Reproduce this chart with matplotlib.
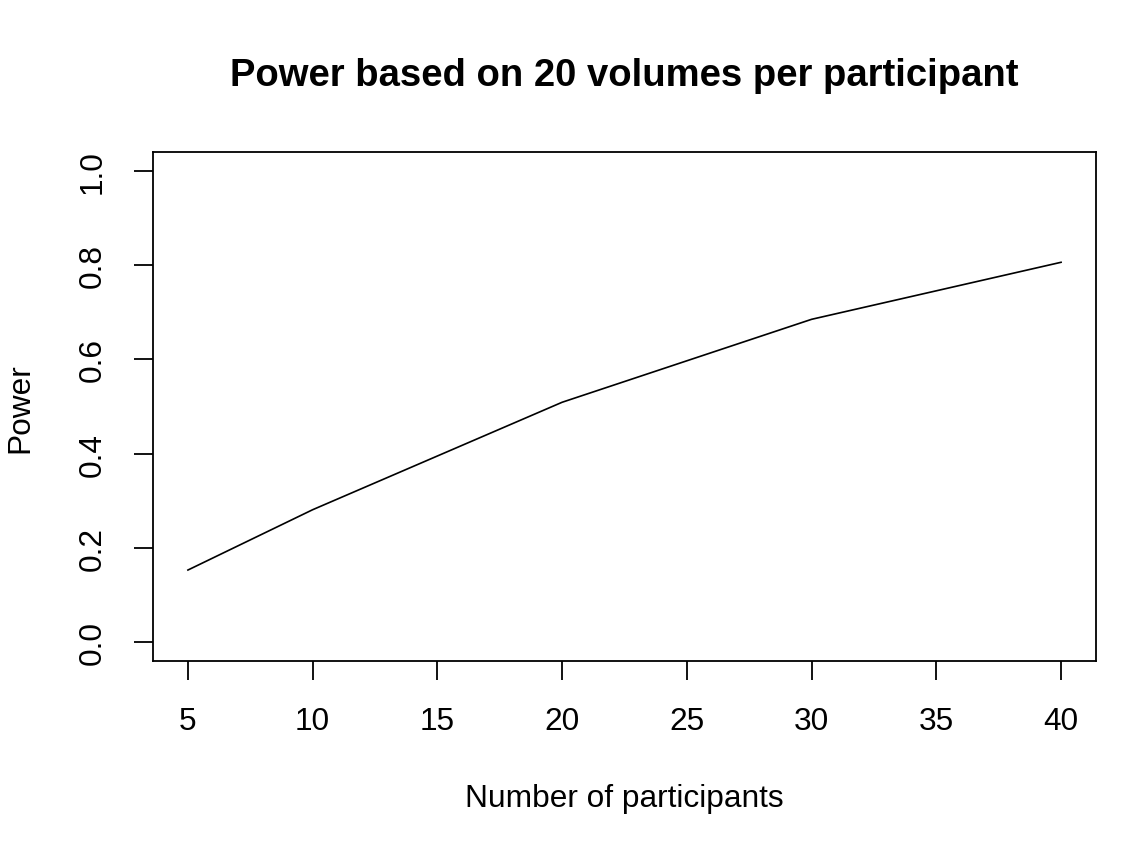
import matplotlib
matplotlib.use("Agg")
import matplotlib.pyplot as plt

participants = [5, 10, 20, 30, 40]
power = [0.153, 0.281, 0.509, 0.685, 0.806]
x_ticks = [5, 10, 15, 20, 25, 30, 35, 40]
y_ticks = [0.0, 0.2, 0.4, 0.6, 0.8, 1.0]

plt.rcParams['font.family'] = ['Liberation Sans', 'DejaVu Sans']
W, H = 1126, 854
fig = plt.figure(figsize=(W / 100, H / 100), dpi=100)
ax = fig.add_axes([153 / W, 1 - 662 / H, (1096 - 153) / W, (662 - 153) / H])
ax.plot(participants, power, color='black', linewidth=1.2)
ax.set_xlim(3.6, 41.4)
ax.set_ylim(-0.04, 1.04)
ax.set_xticks(x_ticks)
ax.set_xticklabels([str(v) for v in x_ticks])
ax.set_yticks(y_ticks)
ax.set_yticklabels([f"{v:.1f}" for v in y_ticks], rotation=90, va='center')
for s in ax.spines.values():
    s.set_linewidth(1.3)
ax.tick_params(axis='both', length=13.5, width=1.3, labelsize=22.8, color='black')
ax.tick_params(axis='x', pad=19)
ax.tick_params(axis='y', pad=19)

fig.text(624 / W, 1 - 76 / H, "Power based on 20 volumes per participant",
         ha='center', va='center', fontsize=27.5, fontweight='bold')
fig.text(624 / W, 1 - 799 / H, "Number of participants",
         ha='center', va='center', fontsize=22.8)
fig.text(20 / W, 1 - 408 / H, "Power", ha='center', va='center',
         rotation=90, fontsize=22.8)

fig.savefig("out.png", dpi=100)
